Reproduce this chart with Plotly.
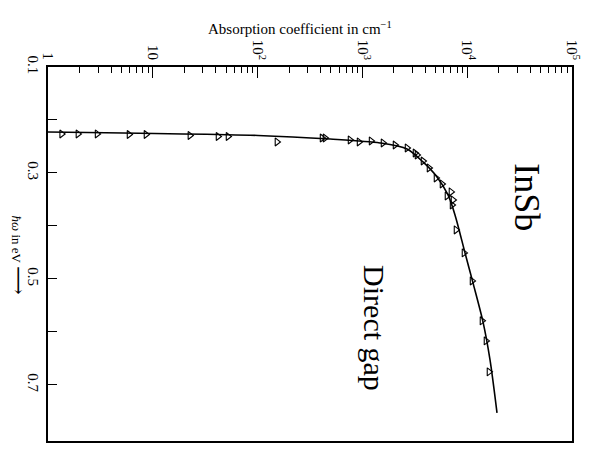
import plotly.graph_objects as go

# Absorption coefficient (cm^-1) and photon energy (eV) for measured points
alpha_pts = [1.35, 1.93, 2.94, 5.93, 8.61, 22.6, 41.9, 52.2, 153, 412, 440,
             762, 929, 1210, 1573, 2048, 2666, 3177, 3320, 3787, 4322, 5040,
             5750, 6415, 7000, 7320, 7170, 7820, 9320, 11120, 13840, 15110, 16140]
energy_pts = [0.2264, 0.2264, 0.2264, 0.2274, 0.2274, 0.2292, 0.2311, 0.2311, 0.2415,
              0.234, 0.234, 0.2377, 0.2415, 0.2396, 0.2434, 0.2472, 0.2528, 0.2623,
              0.266, 0.2774, 0.2906, 0.3094, 0.3208, 0.3434, 0.3358, 0.351, 0.3604,
              0.4075, 0.4509, 0.5038, 0.5792, 0.6170, 0.6755]

# Drawn curve through the data
alpha_curve = [1, 101, 492, 1472, 2665, 3785, 5150, 6560, 7650, 9530, 11360, 14150, 16510, 19250]
energy_curve = [0.2226, 0.2292, 0.236, 0.2434, 0.2547, 0.2792, 0.3075, 0.3415, 0.3792,
                0.4509, 0.5075, 0.5811, 0.6528, 0.7528]

x_tickvals = [1, 10, 100, 1000, 10000, 100000]
x_ticktext = ["1", "10", "10<sup>2</sup>", "10<sup>3</sup>", "10<sup>4</sup>", "10<sup>5</sup>"]
x_minor = [m * 10 ** d for d in range(5) for m in range(2, 10)]

y_tickvals = [0.1, 0.3, 0.5, 0.7]
y_ticktext = ["0.1", "0.3", "0.5", "0.7"]
y_minor = [0.2, 0.4, 0.6]

SERIF = "Liberation Serif, Times New Roman, serif"

fig = go.Figure()
fig.add_trace(go.Scatter(
    x=alpha_curve, y=energy_curve, mode="lines",
    line=dict(color="black", width=1.6, shape="spline", smoothing=0.8),
    hoverinfo="skip", showlegend=False))
fig.add_trace(go.Scatter(
    x=alpha_pts, y=energy_pts, mode="markers",
    marker=dict(symbol="triangle-right-open", size=7, color="black", line=dict(width=1.1)),
    showlegend=False))

fig.update_layout(
    width=581, height=442,
    margin=dict(l=40, r=17, t=59, b=9),
    plot_bgcolor="white", paper_bgcolor="white",
    font=dict(family=SERIF, color="black", size=15),
    xaxis=dict(type="log", side="top", range=[0, 5], automargin=False,
               tickmode="array", tickvals=x_tickvals, ticktext=x_ticktext,
               tickangle=90, ticks="inside", ticklen=11, tickwidth=1.2, tickcolor="black",
               minor=dict(ticks="inside", ticklen=6, tickwidth=1.1, tickcolor="black",
                          tickmode="array", tickvals=x_minor, showgrid=False),
               showline=True, linecolor="black", linewidth=1.5, mirror=True,
               showgrid=False, zeroline=False, tickfont=dict(size=15, family=SERIF)),
    yaxis=dict(range=[0.806, 0.1], automargin=False,
               tickmode="array", tickvals=y_tickvals, ticktext=y_ticktext,
               tickangle=90, ticks="inside", ticklen=9, tickwidth=1.2, tickcolor="black",
               minor=dict(ticks="inside", ticklen=9, tickwidth=1.2, tickcolor="black",
                          tickmode="array", tickvals=y_minor, showgrid=False),
               showline=True, linecolor="black", linewidth=1.5, mirror=True,
               showgrid=False, zeroline=False, tickfont=dict(size=15, family=SERIF)),
)

fig.add_annotation(text="Absorption coefficient in cm<sup>−1</sup>", xref="paper", yref="paper",
                   x=0.481, y=1.104, showarrow=False, font=dict(size=15, family=SERIF),
                   xanchor="center", yanchor="middle")
fig.add_annotation(text="<i>ħω</i> in eV <span style='font-size:20px'>⟶</span>",
                   xref="paper", yref="paper",
                   x=-0.056, y=0.497, showarrow=False, textangle=90,
                   font=dict(size=13, family="Liberation Serif, DejaVu Serif, serif"),
                   xanchor="center", yanchor="middle")
fig.add_annotation(text="InSb", xref="paper", yref="paper", x=0.914, y=0.652,
                   showarrow=False, textangle=90, font=dict(size=36, family=SERIF),
                   xanchor="center", yanchor="middle")
fig.add_annotation(text="Direct gap", xref="paper", yref="paper", x=0.624, y=0.302,
                   showarrow=False, textangle=90, font=dict(size=30, family=SERIF),
                   xanchor="center", yanchor="middle")

fig.write_html("out.html")
